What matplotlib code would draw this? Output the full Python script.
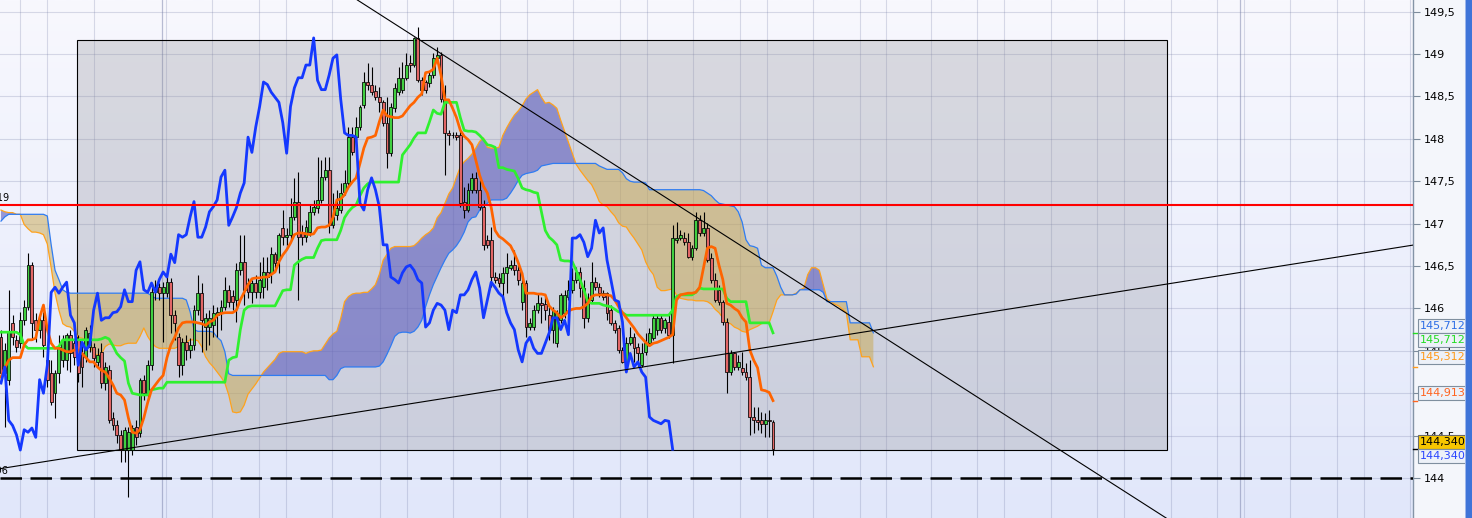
import numpy as np
import matplotlib
matplotlib.use("Agg")
import matplotlib.pyplot as plt
from matplotlib.patches import Rectangle

# ---------------- data (prices) ----------------
opens = [
    145.66, 145.24, 145.16, 145.83, 145.63, 145.59, 145.86, 146.02, 146.51, 145.86,
    145.75, 145.86, 145.39, 145.24, 145.00, 145.24, 145.39, 145.39, 145.69, 145.59,
    145.63, 145.47, 145.43, 145.55, 145.55, 145.37, 145.49, 145.12, 145.27, 144.71,
    144.62, 144.51, 144.33, 144.33, 144.33, 144.60, 144.53, 145.16, 145.00, 145.33,
    146.19, 146.25, 146.18, 146.18, 146.31, 145.92, 145.66, 145.33, 145.60, 145.51,
    145.57, 145.98, 146.18, 145.78, 145.78, 145.80, 145.92, 145.96, 146.02, 146.22,
    146.15, 146.10, 146.45, 146.55, 146.30, 146.19, 146.30, 146.19, 146.25, 146.43,
    146.42, 146.64, 146.57, 146.95, 146.84, 146.87, 147.08, 147.26, 146.90, 146.84,
    146.90, 147.14, 147.19, 147.28, 147.55, 147.63, 146.98, 147.10, 147.16, 147.37,
    147.48, 148.02, 148.02, 148.14, 148.40, 148.67, 148.64, 148.56, 148.49, 148.43,
    148.19, 147.83, 148.36, 148.55, 148.58, 148.72, 148.89, 148.87, 149.19, 148.69,
    148.67, 148.66, 148.75, 148.95, 148.99, 148.47, 148.07, 148.04, 148.04, 148.04,
    147.26, 147.16, 147.40, 147.54, 147.40, 147.20, 146.81, 146.81, 146.37, 146.36,
    146.30, 146.42, 146.48, 146.51, 146.45, 146.08, 146.30, 145.78, 145.78, 145.98,
    146.06, 146.05, 145.92, 145.75, 145.59, 145.86, 145.95, 146.14, 146.22, 146.34,
    146.43, 146.24, 145.89, 146.10, 146.31, 146.25, 146.18, 146.18, 145.98, 145.83,
    145.77, 145.51, 145.37, 145.59, 145.66, 145.55, 145.33, 145.49, 145.59, 145.65,
    145.75, 145.89, 145.77, 145.84, 145.69, 146.81, 146.83, 146.83, 146.78, 146.61,
    146.71, 147.04, 146.89, 146.95, 146.60, 146.34, 146.22, 146.08, 145.84, 145.25,
    145.47, 145.31, 145.30, 145.25, 145.19, 144.72, 144.68, 144.68, 144.64, 144.68,
    144.66,
]
highs = [
    145.75, 145.59, 146.22, 145.92, 145.69, 145.96, 146.10, 146.65, 146.55, 145.95,
    145.92, 145.96, 145.57, 145.39, 145.27, 145.69, 145.69, 145.71, 145.75, 145.63,
    145.69, 145.57, 145.78, 145.80, 145.59, 145.53, 145.59, 145.37, 145.33, 144.78,
    144.68, 144.57, 144.60, 144.60, 144.62, 144.68, 145.18, 145.21, 145.39, 146.30,
    146.34, 146.30, 146.31, 146.37, 146.36, 145.98, 145.71, 145.65, 145.69, 145.65,
    146.04, 146.39, 146.30, 145.95, 145.98, 146.04, 146.02, 146.10, 146.37, 146.28,
    146.22, 146.54, 146.87, 146.87, 146.36, 146.34, 146.39, 146.55, 146.61, 146.61,
    146.73, 146.67, 146.89, 147.16, 146.95, 147.30, 147.54, 147.61, 146.98, 147.04,
    147.22, 147.28, 147.79, 147.75, 147.79, 147.79, 147.36, 147.40, 147.48, 147.63,
    148.14, 148.14, 148.26, 148.40, 148.79, 148.89, 148.85, 148.64, 148.61, 148.46,
    148.49, 148.42, 148.66, 148.85, 148.91, 149.01, 148.99, 149.20, 149.32, 148.73,
    148.69, 148.79, 149.01, 149.08, 149.02, 148.64, 148.10, 148.08, 148.08, 148.10,
    147.43, 147.48, 147.60, 147.61, 147.51, 147.28, 146.87, 146.96, 146.43, 146.42,
    146.49, 146.65, 146.57, 146.69, 146.51, 146.43, 146.34, 145.89, 146.04, 146.18,
    146.14, 146.14, 146.02, 146.02, 145.98, 146.18, 146.22, 146.34, 146.48, 146.49,
    146.49, 146.34, 146.18, 146.55, 146.37, 146.30, 146.22, 146.19, 146.04, 145.86,
    145.80, 145.55, 145.66, 145.78, 145.71, 145.59, 145.59, 145.71, 145.77, 145.92,
    145.92, 145.92, 145.89, 145.95, 146.98, 147.02, 146.92, 146.90, 146.89, 146.75,
    147.14, 147.10, 147.14, 147.01, 146.65, 146.42, 146.28, 146.10, 145.89, 145.51,
    145.49, 145.45, 145.49, 145.36, 145.39, 144.84, 144.84, 144.78, 144.77, 144.80,
    144.68,
]
lows = [
    145.16, 144.60, 145.10, 145.57, 145.49, 145.53, 145.80, 145.98, 145.63, 145.60,
    145.65, 145.43, 145.07, 144.86, 144.71, 145.12, 145.31, 145.27, 145.25, 145.33,
    145.13, 145.07, 145.37, 145.49, 145.31, 145.30, 145.06, 145.04, 144.65, 144.57,
    144.41, 144.19, 144.19, 143.78, 144.27, 144.39, 144.48, 144.92, 144.94, 145.27,
    146.10, 146.10, 145.60, 146.14, 145.71, 145.63, 145.19, 145.21, 145.39, 145.42,
    145.51, 145.92, 145.49, 145.51, 145.57, 145.66, 145.66, 145.75, 145.98, 146.02,
    145.98, 145.84, 146.39, 146.04, 146.12, 146.06, 146.12, 146.12, 146.12, 146.22,
    146.30, 146.48, 146.42, 146.75, 146.75, 146.81, 147.04, 146.10, 146.75, 146.78,
    146.85, 147.10, 147.13, 147.24, 147.51, 146.89, 146.95, 147.04, 147.13, 147.34,
    147.43, 147.81, 147.99, 148.10, 148.36, 148.58, 148.52, 148.46, 148.32, 148.15,
    147.66, 147.80, 148.32, 148.52, 148.54, 148.69, 148.79, 148.85, 148.67, 148.52,
    148.54, 148.61, 148.72, 148.93, 148.43, 147.57, 147.93, 148.01, 147.99, 147.20,
    147.07, 147.14, 147.36, 147.36, 147.16, 146.69, 146.71, 146.25, 146.30, 146.25,
    146.10, 146.18, 146.45, 146.40, 146.28, 145.98, 145.66, 145.75, 145.75, 145.95,
    145.83, 145.86, 145.63, 145.59, 145.55, 145.83, 145.89, 146.10, 146.18, 146.30,
    146.14, 145.77, 145.84, 146.06, 146.22, 146.14, 146.10, 145.86, 145.80, 145.71,
    145.47, 145.36, 145.27, 145.57, 145.37, 145.31, 145.31, 145.45, 145.56, 145.63,
    145.69, 145.71, 145.71, 145.65, 145.36, 146.77, 146.81, 146.75, 146.60, 146.57,
    146.69, 146.85, 146.85, 146.55, 146.30, 146.08, 146.04, 145.80, 145.00, 145.21,
    145.27, 145.27, 145.21, 145.16, 144.51, 144.53, 144.57, 144.53, 144.49, 144.49,
    144.27,
]
closes = [
    145.24, 145.51, 145.72, 145.66, 145.55, 145.86, 146.02, 146.51, 145.83, 145.75,
    145.86, 145.57, 145.16, 144.90, 145.24, 145.55, 145.63, 145.69, 145.47, 145.43,
    145.24, 145.31, 145.75, 145.71, 145.42, 145.45, 145.12, 145.31, 144.68, 144.62,
    144.51, 144.33, 144.57, 144.54, 144.59, 144.48, 145.16, 145.00, 145.33, 146.19,
    146.25, 146.18, 146.25, 146.31, 145.92, 145.83, 145.33, 145.60, 145.51, 145.57,
    145.98, 146.18, 145.86, 145.89, 145.89, 145.95, 145.96, 146.02, 146.22, 146.08,
    146.08, 146.45, 146.55, 146.22, 146.19, 146.30, 146.19, 146.34, 146.43, 146.37,
    146.64, 146.54, 146.87, 146.84, 146.87, 147.08, 147.26, 146.84, 146.84, 146.96,
    147.14, 147.20, 147.28, 147.55, 147.63, 146.98, 147.08, 147.19, 147.36, 147.48,
    148.02, 147.84, 148.14, 148.38, 148.67, 148.64, 148.55, 148.49, 148.43, 148.19,
    147.83, 148.38, 148.60, 148.72, 148.72, 148.87, 148.87, 149.19, 148.69, 148.58,
    148.58, 148.75, 148.95, 148.99, 148.47, 148.07, 148.04, 148.04, 148.02, 147.24,
    147.16, 147.40, 147.54, 147.40, 147.20, 146.75, 146.75, 146.37, 146.34, 146.30,
    146.42, 146.49, 146.51, 146.45, 146.34, 146.30, 145.78, 145.83, 145.98, 146.06,
    146.04, 145.98, 145.75, 145.98, 145.95, 146.16, 146.16, 146.22, 146.34, 146.43,
    146.24, 145.89, 146.10, 146.31, 146.25, 146.18, 146.14, 145.95, 145.83, 145.75,
    145.51, 145.37, 145.59, 145.66, 145.53, 145.47, 145.47, 145.59, 145.71, 145.89,
    145.89, 145.75, 145.86, 145.69, 146.83, 146.83, 146.87, 146.78, 146.61, 146.71,
    147.04, 146.89, 146.95, 146.57, 146.34, 146.10, 146.08, 145.84, 145.25, 145.47,
    145.31, 145.37, 145.25, 145.19, 144.72, 144.68, 144.66, 144.64, 144.68, 144.67,
    144.34,
]
tenkan = [
    145.19, 145.30, 145.39, 145.42, 145.42, 145.42, 145.57, 145.63, 145.63, 145.65,
    145.89, 146.04, 145.75, 145.59, 145.53, 145.53, 145.51, 145.49, 145.49, 145.51,
    145.51, 145.47, 145.42, 145.37, 145.37, 145.31, 145.27, 145.25, 145.18, 145.10,
    145.00, 144.98, 144.92, 144.71, 144.54, 144.53, 144.57, 144.71, 144.89, 145.04,
    145.10, 145.16, 145.21, 145.42, 145.57, 145.66, 145.77, 145.83, 145.84, 145.84,
    145.84, 145.83, 145.82, 145.80, 145.84, 145.86, 145.92, 145.94, 145.95, 145.95,
    145.95, 145.98, 146.10, 146.19, 146.28, 146.35, 146.36, 146.36, 146.37, 146.37,
    146.40, 146.43, 146.55, 146.63, 146.69, 146.77, 146.87, 146.89, 146.89, 146.88,
    146.87, 146.88, 146.95, 146.96, 146.96, 146.98, 147.07, 147.28, 147.29, 147.34,
    147.43, 147.49, 147.54, 147.71, 147.89, 148.01, 148.02, 148.04, 148.20, 148.34,
    148.27, 148.26, 148.25, 148.25, 148.27, 148.33, 148.39, 148.43, 148.49, 148.53,
    148.78, 148.79, 148.82, 148.95, 148.75, 148.46, 148.46, 148.36, 148.25, 148.10,
    148.03, 147.99, 147.93, 147.75, 147.57, 147.44, 147.36, 147.19, 146.92, 146.85,
    146.82, 146.78, 146.74, 146.65, 146.54, 146.41, 146.18, 146.18, 146.18, 146.17,
    146.17, 146.16, 146.03, 145.98, 145.95, 145.89, 145.92, 145.97, 145.99, 146.00,
    146.00, 146.02, 146.06, 146.14, 146.16, 146.16, 146.16, 146.16, 146.15, 146.10,
    146.02, 145.95, 145.89, 145.83, 145.77, 145.70, 145.65, 145.60, 145.56, 145.59,
    145.60, 145.62, 145.64, 145.66, 145.69, 146.10, 146.16, 146.17, 146.18, 146.18,
    146.19, 146.25, 146.48, 146.71, 146.73, 146.71, 146.51, 146.34, 146.06, 146.04,
    146.00, 145.97, 145.89, 145.84, 145.51, 145.39, 145.30, 145.04, 145.03, 145.01,
    144.913,
]
kijun = [
    145.72, 145.72, 145.72, 145.72, 145.72, 145.69, 145.57, 145.53, 145.53, 145.53,
    145.53, 145.53, 145.53, 145.53, 145.53, 145.55, 145.63, 145.63, 145.63, 145.63,
    145.63, 145.63, 145.63, 145.63, 145.63, 145.63, 145.64, 145.66, 145.64, 145.56,
    145.47, 145.42, 145.38, 145.12, 145.00, 144.99, 144.98, 144.98, 144.98, 145.04,
    145.05, 145.06, 145.06, 145.13, 145.13, 145.13, 145.13, 145.13, 145.13, 145.13,
    145.13, 145.13, 145.13, 145.13, 145.13, 145.13, 145.13, 145.13, 145.13, 145.39,
    145.42, 145.43, 145.75, 145.98, 146.02, 146.03, 146.03, 146.03, 146.03, 146.03,
    146.03, 146.03, 146.12, 146.21, 146.22, 146.22, 146.51, 146.55, 146.58, 146.60,
    146.60, 146.60, 146.71, 146.80, 146.81, 146.81, 146.81, 146.81, 146.92, 147.07,
    147.14, 147.19, 147.22, 147.33, 147.42, 147.47, 147.49, 147.49, 147.49, 147.49,
    147.49, 147.49, 147.49, 147.49, 147.81, 147.87, 147.93, 148.01, 148.07, 148.07,
    148.07, 148.20, 148.34, 148.30, 148.29, 148.43, 148.43, 148.43, 148.43, 148.25,
    148.10, 148.09, 148.09, 148.08, 148.04, 147.99, 147.93, 147.92, 147.90, 147.66,
    147.66, 147.64, 147.63, 147.62, 147.53, 147.42, 147.40, 147.39, 147.37, 147.36,
    147.14, 146.92, 146.84, 146.80, 146.75, 146.57, 146.56, 146.56, 146.55, 146.45,
    146.34, 146.22, 146.08, 146.06, 146.06, 146.06, 146.04, 146.03, 146.02, 145.99,
    145.96, 145.95, 145.92, 145.92, 145.92, 145.92, 145.92, 145.92, 145.92, 145.92,
    145.92, 145.92, 145.92, 145.92, 145.98, 146.14, 146.16, 146.16, 146.16, 146.16,
    146.19, 146.24, 146.23, 146.23, 146.23, 146.23, 146.23, 146.23, 146.12, 146.08,
    146.08, 146.08, 146.08, 146.08, 145.83, 145.83, 145.83, 145.83, 145.83, 145.83,
    145.712,
]
senkou_a = [
    147.16, 147.14, 147.13, 147.13, 147.11, 147.11, 146.99, 146.94, 146.90, 146.90,
    146.89, 146.87, 146.76, 146.48, 146.18, 145.98, 145.82, 145.79, 145.78, 145.73,
    145.66, 145.65, 145.63, 145.56, 145.47, 145.45, 145.46, 145.55, 145.58, 145.57,
    145.56, 145.56, 145.58, 145.59, 145.59, 145.59, 145.67, 145.77, 145.67, 145.60,
    145.55, 145.53, 145.53, 145.53, 145.53, 145.53, 145.55, 145.57, 145.60, 145.63,
    145.63, 145.62, 145.55, 145.43, 145.36, 145.31, 145.25, 145.19, 145.12, 144.98,
    144.78, 144.77, 144.78, 144.86, 144.99, 145.05, 145.11, 145.18, 145.25, 145.30,
    145.35, 145.40, 145.47, 145.49, 145.49, 145.49, 145.49, 145.49, 145.49, 145.47,
    145.49, 145.50, 145.50, 145.51, 145.58, 145.65, 145.70, 145.73, 145.88, 146.08,
    146.14, 146.17, 146.18, 146.18, 146.19, 146.19, 146.23, 146.28, 146.40, 146.57,
    146.64, 146.71, 146.73, 146.73, 146.73, 146.73, 146.73, 146.74, 146.78, 146.83,
    146.87, 146.90, 146.95, 147.07, 147.13, 147.24, 147.35, 147.42, 147.55, 147.67,
    147.73, 147.77, 147.82, 147.89, 147.97, 148.01, 147.90, 147.89, 147.89, 147.90,
    148.04, 148.13, 148.21, 148.28, 148.33, 148.39, 148.47, 148.52, 148.55, 148.58,
    148.49, 148.42, 148.43, 148.40, 148.36, 148.22, 148.09, 147.96, 147.83, 147.70,
    147.63, 147.57, 147.51, 147.46, 147.37, 147.26, 147.22, 147.20, 147.14, 147.09,
    147.01, 146.97, 146.96, 146.89, 146.83, 146.76, 146.69, 146.55, 146.46, 146.40,
    146.25, 146.21, 146.21, 146.22, 146.23, 146.16, 146.12, 146.11, 146.10, 146.10,
    146.09, 146.09, 146.09, 146.08, 146.05, 145.99, 145.95, 145.89, 145.83, 145.82,
    145.78, 145.76, 145.73, 145.72, 145.75, 145.77, 145.79, 145.82, 145.83, 145.83,
    145.96, 146.10, 146.16, 146.16, 146.16, 146.16, 146.18, 146.22, 146.24, 146.40,
    146.48, 146.48, 146.45, 146.28, 146.11, 146.08, 146.05, 146.03, 145.99, 145.95,
    145.63, 145.63, 145.63, 145.43, 145.43, 145.43, 145.312,
]
senkou_b = [
    147.03, 147.08, 147.11, 147.11, 147.11, 147.11, 147.11, 147.11, 147.11, 147.11,
    147.11, 147.11, 147.09, 146.75, 146.45, 146.34, 146.22, 146.19, 146.18, 146.18,
    146.18, 146.18, 146.18, 146.18, 146.18, 146.18, 146.18, 146.18, 146.18, 146.18,
    146.18, 146.18, 146.18, 146.18, 146.18, 146.18, 146.18, 146.18, 146.18, 146.15,
    146.12, 146.12, 146.12, 146.12, 146.12, 146.12, 146.12, 146.12, 146.10, 145.96,
    145.75, 145.73, 145.73, 145.73, 145.73, 145.72, 145.66, 145.62, 145.49, 145.23,
    145.21, 145.21, 145.21, 145.21, 145.21, 145.21, 145.21, 145.21, 145.21, 145.21,
    145.21, 145.21, 145.21, 145.21, 145.21, 145.21, 145.21, 145.21, 145.21, 145.21,
    145.21, 145.21, 145.21, 145.21, 145.21, 145.16, 145.16, 145.21, 145.29, 145.31,
    145.31, 145.31, 145.31, 145.31, 145.31, 145.31, 145.31, 145.31, 145.32, 145.37,
    145.46, 145.56, 145.67, 145.71, 145.72, 145.72, 145.71, 145.73, 145.78, 145.86,
    146.02, 146.16, 146.28, 146.38, 146.48, 146.57, 146.65, 146.69, 146.74, 146.81,
    146.90, 147.02, 147.07, 147.08, 147.16, 147.21, 147.24, 147.28, 147.28, 147.28,
    147.28, 147.30, 147.36, 147.43, 147.51, 147.57, 147.59, 147.60, 147.61, 147.63,
    147.68, 147.69, 147.70, 147.71, 147.71, 147.71, 147.71, 147.71, 147.71, 147.71,
    147.71, 147.71, 147.71, 147.71, 147.71, 147.68, 147.66, 147.64, 147.64, 147.64,
    147.64, 147.60, 147.53, 147.50, 147.49, 147.49, 147.49, 147.48, 147.40, 147.40,
    147.40, 147.40, 147.40, 147.40, 147.40, 147.40, 147.40, 147.40, 147.40, 147.40,
    147.40, 147.40, 147.39, 147.36, 147.33, 147.28, 147.24, 147.23, 147.22, 147.21,
    147.20, 147.14, 147.02, 146.81, 146.74, 146.73, 146.71, 146.51, 146.48, 146.48,
    146.48, 146.38, 146.25, 146.16, 146.16, 146.16, 146.17, 146.22, 146.22, 146.22,
    146.22, 146.22, 146.22, 146.19, 146.08, 146.08, 146.08, 146.08, 146.08, 146.08,
    145.83, 145.83, 145.83, 145.83, 145.83, 145.83, 145.712,
]
chikou_shift = 26
resistance_level = 147.219
support_level = 143.996
# trend lines: two anchor points each (bar index, price)
trend_down = [(108, 149.18), (226, 145.74)]
trend_up = [(33, 144.35), (226, 145.74)]
# highlighted range box (bar index / price)
box_x = (19.7, 302.1)
box_y = (144.33, 149.165)
# time grid (bar index)
time_grid = [4.92, 11.92, 24.09, 42.75, 54.66, 66.84, 73.83, 85.75, 98.19, 105.18,
             117.10, 129.27, 136.27, 148.19, 160.36, 167.36, 179.27, 191.45, 198.45,
             210.36, 222.54, 229.27, 240.93, 252.85, 259.84, 272.02, 283.94, 290.93,
             303.11, 315.03, 322.02, 333.94, 346.11, 353.11, 365.03]
period_grid = [41.71, 320.98]
price_ticks = [143.5, 144.0, 144.5, 145.0, 145.5, 146.0, 146.5, 147.0, 147.5, 148.0, 148.5, 149.0, 149.5]

assert len(opens) == len(highs) == len(lows) == len(closes) == len(tenkan) == len(kijun) == 201
assert len(senkou_a) == len(senkou_b) == 227

# ---------------- figure ----------------
W, H = 1472, 518
fig = plt.figure(figsize=(W / 100, H / 100), dpi=100)
fig.patch.set_facecolor("#f4f6fb")
ax = fig.add_axes([0, 0, 1413 / W, 1])
x0, x1 = -0.26, 365.8
y0, y1 = 143.529, 149.637
ax.set_xlim(x0, x1)
ax.set_ylim(y0, y1)

# gradient background
g = np.linspace(0, 1, 256)[:, None, None]
top = np.array([248, 248, 254]) / 255
bot = np.array([225, 231, 250]) / 255
img = top + (bot - top) * g
ax.imshow(img, extent=[x0, x1, y0, y1], origin="upper", aspect="auto", zorder=0)

gcol = (0.42, 0.45, 0.62)
for gx in time_grid:
    ax.axvline(gx, color=gcol, alpha=0.24, lw=0.8, zorder=0.5)
for gx in period_grid:
    ax.axvline(gx, color=gcol, alpha=0.45, lw=0.9, zorder=0.5)
for p in price_ticks:
    ax.axhline(p, color=gcol, alpha=0.24, lw=0.8, zorder=0.5)

# range box
ax.add_patch(Rectangle((box_x[0], box_y[0]), box_x[1] - box_x[0], box_y[1] - box_y[0],
                       facecolor=(0.55, 0.55, 0.58, 0.28), edgecolor="black", lw=0.8, zorder=1))

# cloud
A = np.array(senkou_a)
B = np.array(senkou_b)
si = np.arange(len(A))
ax.fill_between(si, A, B, where=A >= B, interpolate=True, color=(0.36, 0.36, 0.74), alpha=0.6, lw=0, zorder=2)
ax.fill_between(si, A, B, where=A < B, interpolate=True, color=(0.79, 0.66, 0.30), alpha=0.5, lw=0, zorder=2)
ax.plot(si, A, color="#ffa21c", lw=0.9, zorder=2.5)
ax.plot(si, B, color="#2f7cf2", lw=0.9, zorder=2.5)

# candles
O = np.array(opens); Hh = np.array(highs); L = np.array(lows); C = np.array(closes)
ci = np.arange(len(C))
ax.vlines(ci, L, Hh, color="black", lw=0.8, zorder=3)
up = C >= O
body = np.where(np.abs(C - O) < 0.004, 0.004, C - O)
cols = np.where(up, "#40cf40", "#e26666")
ax.bar(ci, body, bottom=O, width=0.74, color=cols, edgecolor="black", lw=0.55, zorder=3.2)

# ichimoku lines
ax.plot(ci, kijun, color="#2ff02f", lw=1.95, zorder=4, solid_joinstyle="round")
ax.plot(ci, tenkan, color="#ff6400", lw=1.95, zorder=4.1, solid_joinstyle="round")
ax.plot(ci[chikou_shift:] - chikou_shift, C[chikou_shift:], color="#1438ff", lw=2.0, zorder=4.2,
        solid_joinstyle="round")

# horizontal levels and trend lines
ax.axhline(resistance_level, color="#ff0000", lw=1.5, zorder=6)
ax.axhline(support_level, color="black", lw=1.8, dashes=(8.6, 3.4), zorder=6)
ax.axline(trend_down[0], trend_down[1], color="black", lw=0.8, zorder=6)
ax.axline(trend_up[0], trend_up[1], color="black", lw=0.8, zorder=6)

ax.text(2.3, resistance_level + 0.02, "147,219", ha="right", va="bottom", fontsize=7, zorder=7)
ax.text(2.1, support_level + 0.03, "143,996", ha="right", va="bottom", fontsize=7, zorder=7)

# axes styling
ax.xaxis.set_visible(False)
for s in ("top", "left", "bottom"):
    ax.spines[s].set_visible(False)
ax.spines["right"].set_color("#8494a6")
ax.spines["right"].set_linewidth(1.0)
ax.yaxis.tick_right()
ax.set_yticks(price_ticks)
ax.set_yticklabels([("%g" % p).replace(".", ",") for p in price_ticks])
ax.tick_params(axis="y", direction="out", length=5, width=0.8, color="#7d8c9c", pad=3,
               labelsize=8, labelcolor="black")
ax.set_ylim(y0, y1)

# value labels on the price axis
labels = [
    ("145,712", 145.712, 7.3, "#2f6fe6", "#edf1f8", "#7f8f9f"),
    ("145,712", 145.712, -7.2, "#22dd22", "#edf1f8", "#7f8f9f"),
    ("145,312", 145.312, 9.7, "#ff9a1a", "#edf1f8", "#7f8f9f"),
    ("144,913", 144.913, 8.0, "#ff6420", "#edf1f8", "#7f8f9f"),
    ("144,340", 144.340, 7.7, "black", "#f7c600", "#6a6a6a"),
    ("144,340", 144.340, -6.8, "#2a46ff", "#edf1f8", "#7f8f9f"),
]
for txt, val, dy, tc, fc, ec in labels:
    ax.annotate(txt, xy=(1, val), xycoords=("axes fraction", "data"), xytext=(7, dy),
                textcoords="offset pixels", ha="left", va="center", fontsize=8, color=tc,
                annotation_clip=False, zorder=20,
                bbox=dict(boxstyle="square,pad=0.18", fc=fc, ec=ec, lw=0.8))
for val, c in [(145.712, "#22dd22"), (145.312, "#ff9a1a"), (144.913, "#ff6420"), (144.340, "black")]:
    ax.plot([1.0, 1.0 + 4 / 1413], [val, val], transform=ax.get_yaxis_transform(), color=c,
            lw=1.0, clip_on=False, zorder=19)

# right blue strip
fig.patches.append(Rectangle((1466 / W, 0), 6 / W, 1, transform=fig.transFigure,
                             facecolor="#3f74d8", edgecolor="none"))
fig.patches.append(Rectangle((1465 / W, 0), 1.2 / W, 1, transform=fig.transFigure,
                             facecolor="#9db6ea", edgecolor="none"))

fig.savefig("out.png", dpi=100, facecolor=fig.get_facecolor())
